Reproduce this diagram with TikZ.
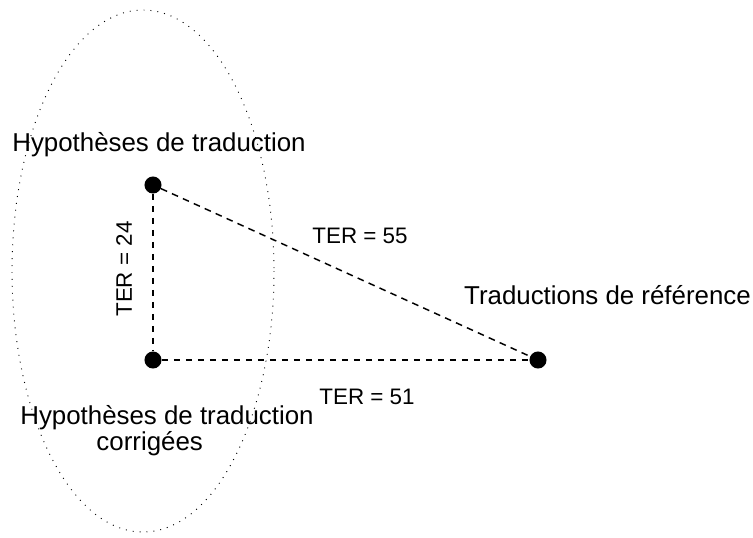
\documentclass[tikz,border=0pt]{standalone}
\usepackage{fontspec}
\setmainfont{Liberation Sans}
\begin{document}
\begin{tikzpicture}[x=0.75pt,y=-0.75pt,
  dot/.style={circle,fill=black,inner sep=0pt,minimum size=12.8pt},
  big/.style={font=\fontsize{19.4}{17.25}\selectfont,inner sep=0pt},
  ter/.style={font=\fontsize{16.8}{19}\selectfont,inner sep=0pt},
  edge/.style={dashed,dash pattern=on 5pt off 4pt,line width=1.1pt},
  ring/.style={line width=0.7pt,dash pattern=on 0.7pt off 4.5pt}]
\useasboundingbox (0,0) rectangle (753,537);
\draw[ring] (143,271) ellipse [x radius=131, y radius=261];
\node[dot] (a) at (153,185) {};
\node[dot] (b) at (153,360) {};
\node[dot] (c) at (538,360) {};
\draw[edge] (a) -- (b);
\draw[edge] (a) -- (c);
\draw[edge] (b) -- (c);
\node[big] (la) at (159,145) {Hypothèses de traduction};
\node[big,align=center,anchor=base] (lb) at (167,450) {Hypothèses de traduction\\corrigées\hspace*{26pt}};
\node[big] (lc) at (607.5,295) {Traductions de référence};
\node[ter,rotate=90] (t24) at (124,269) {TER = 24};
\node[ter] (t55) at (360,236) {TER = 55};
\node[ter] (t51) at (367,397) {TER = 51};
\end{tikzpicture}
\end{document}
